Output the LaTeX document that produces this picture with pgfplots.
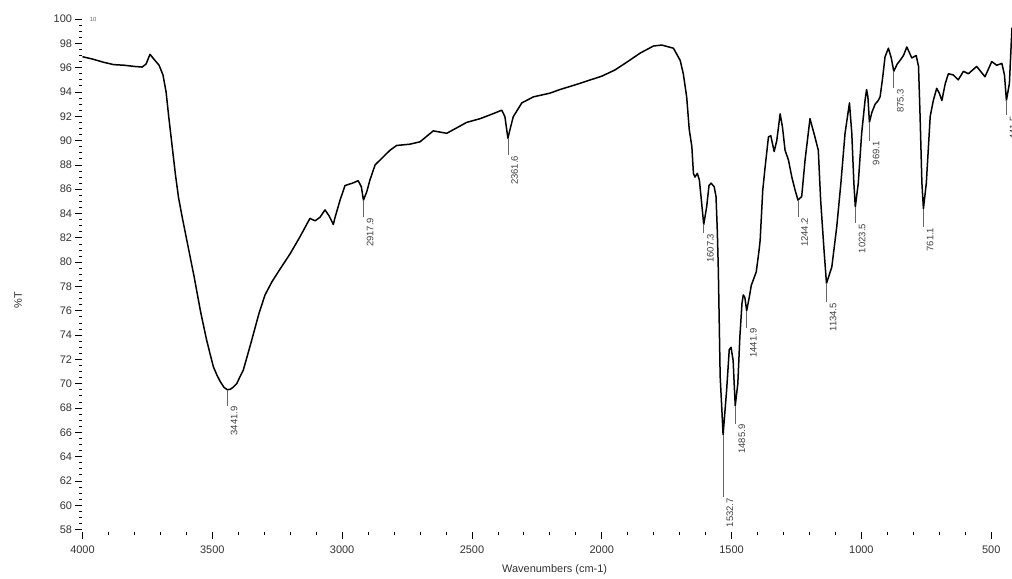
\documentclass[border=0pt]{standalone}
\usepackage{fontspec}
\setmainfont{Liberation Sans}
\usepackage{pgfplots}
\pgfplotsset{compat=1.18}
\tikzset{peak/.style={black!60, line width=0.7bp},
  plab/.style={rotate=90, anchor=north east, inner xsep=0.5bp, inner ysep=3bp,
           font=\fontsize{9.5}{10}\selectfont, text=black!75}}
\newcommand\peak[3]{\draw[peak] (axis cs:#1,#2) -- (axis cs:#1,#3) node[plab] {#1};}
\begin{document}
\begin{tikzpicture}
\begin{axis}[
  scale only axis,
  width=929.5bp, height=516.6bp,
  at={(0,0)}, anchor=south west,
  x dir=reverse,
  xmin=420, xmax=4000,
  ymin=57.8, ymax=100.3,
  axis lines*=left,
  axis line style={draw=none},
  tick align=outside,
  xtick={500,1000,...,4000},
  minor x tick num=4,
  ytick={58,60,...,100},
  minor y tick num=3,
  major tick length=7bp,
  minor tick length=3bp,
  tick style={black, line width=0.8bp},
  tick label style={font=\fontsize{11}{13}\selectfont, text=black!80},
  xticklabel style={yshift=-3.5bp},
  /pgf/number format/assume math mode=true,
  /pgf/number format/1000 sep={},
  clip=false,
]
\addplot[black, line width=1.5bp, line join=round] coordinates {
(4000,96.9) (3960,96.7) (3920,96.45) (3880,96.25) (3840,96.2) (3800,96.1)
(3770,96.05) (3755,96.3) (3740,97.1) (3725,96.7) (3705,96.2) (3690,95.4)
(3678,94.0) (3668,92.0) (3655,89.6) (3642,87.2) (3630,85.3) (3615,83.6) (3600,82.0)
(3585,80.4) (3570,78.8) (3545,75.9) (3522,73.6) (3508,72.4) (3496,71.4) (3482,70.7) (3470,70.2) (3455,69.7) (3441.9,69.5)
(3430,69.55) (3420,69.7) (3406,70.0) (3395,70.5) (3381,71.1) (3365,72.3) (3348,73.6) (3320,75.8) (3297,77.3)
(3270,78.4) (3240,79.4) (3200,80.7) (3162,82.1) (3124,83.6) (3104,83.4)
(3085,83.7) (3066,84.3) (3050,83.8) (3034,83.1) (3027,83.7) (3008,85.1)
(2989,86.3) (2960,86.5) (2938,86.7) (2926,86.2) (2917.9,85.1) (2905,85.8)
(2893,86.75) (2873,88.0) (2854,88.4) (2816,89.2) (2790,89.6) (2740,89.7)
(2700,89.9) (2649,90.8) (2597,90.6) (2520,91.5) (2469,91.8) (2420,92.2)
(2385,92.5) (2373,91.96) (2361.6,90.2) (2350,91.2) (2341,91.96) (2308,93.1)
(2263,93.6) (2200,93.9) (2161,94.2) (2100,94.6) (2000,95.3) (1950,95.8)
(1900,96.5) (1852,97.2) (1801,97.78) (1769,97.86) (1724,97.6) (1698,96.6)
(1686,95.5) (1673,93.6) (1663,90.9) (1653,89.5) (1647,87.3) (1641,87.0)
(1632,87.3) (1624,86.75) (1615,84.8) (1607.3,83.1) (1596,84.55) (1587,86.3)
(1579,86.5) (1567,86.2) (1560,85.4) (1555,82.6) (1551,79.3) (1544,70.6)
(1538,68.1) (1532.7,65.8) (1519,69.5) (1509,72.8) (1502,73.0) (1494,71.9)
(1490,70.0) (1485.9,68.2) (1476,70.0) (1468,73.9) (1460,76.6) (1455,77.3)
(1449,77.1) (1441.9,76.0) (1432,77.1) (1424,78.1) (1405,79.2) (1394,81.0)
(1390,81.8) (1380,85.9) (1371,87.8) (1358,90.3) (1349,90.4) (1336,89.1)
(1326,90.0) (1313,92.2) (1304,91.1) (1294,89.2) (1281,88.4) (1268,87.0)
(1255,85.9) (1244.2,85.1) (1230,85.4) (1217,88.4) (1198,91.8) (1179,90.3)
(1166,89.2) (1157,85.1) (1144,81.0) (1134.5,78.25) (1114,79.6) (1095,82.9)
(1079,86.5) (1063,90.6) (1046,93.1) (1037,90.6) (1029,86.5) (1023.5,84.55)
(1012,86.5) (999,90.6) (986,93.3) (980,94.2) (975,93.6) (969.1,91.5)
(960,92.3) (947,93.0) (935,93.3) (928,93.6) (918,95.2) (909,96.9)
(896,97.6) (885,96.8) (875.3,95.7) (862,96.3) (851,96.6) (838,97.0)
(825,97.7) (806,96.8) (789,97.0) (780,96.1) (774,92.0) (767,86.5)
(761.1,84.4) (750,86.5) (735,92.0) (723,93.3) (710,94.3) (700,93.9)
(690,93.3) (677,94.7) (665,95.5) (646,95.4) (627,95.0) (607,95.7)
(588,95.5) (556,96.1) (524,95.25) (498,96.5) (479,96.2) (459,96.35)
(449,95.4) (441.5,93.3) (430,94.7) (424,97.5) (420,99.3)
};
\peak{3441.9}{69.5}{68.2}
\peak{2917.9}{85.1}{83.7}
\peak{2361.6}{90.2}{88.8}
\peak{1607.3}{83.1}{82.4}
\peak{1532.7}{65.8}{60.65}
\peak{1485.9}{68.2}{66.7}
\peak{1441.9}{76.0}{74.6}
\peak{1244.2}{85.1}{83.7}
\peak{1134.5}{78.25}{76.7}
\peak{1023.5}{84.55}{83.2}
\peak{969.1}{91.5}{90.0}
\peak{875.3}{95.7}{94.3}
\peak{761.1}{84.4}{82.9}
\peak{441.5}{93.3}{92.1}
\node[rotate=90, font=\fontsize{11}{13}\selectfont, text=black!80]
  at (axis description cs:-0.0694,0.449) {\%T};
\node[font=\fontsize{11}{13}\selectfont, text=black!80]
  at (axis description cs:0.508,-0.0736) {Wavenumbers (cm-1)};
\node[anchor=west, font=\fontsize{6}{7}\selectfont, text=black!60]
  at (axis cs:3985,100) {10};
\end{axis}
\pgfresetboundingbox
\path[use as bounding box] (-82.5bp,-47bp) rectangle (929.5bp,532bp);
\end{tikzpicture}
\end{document}
